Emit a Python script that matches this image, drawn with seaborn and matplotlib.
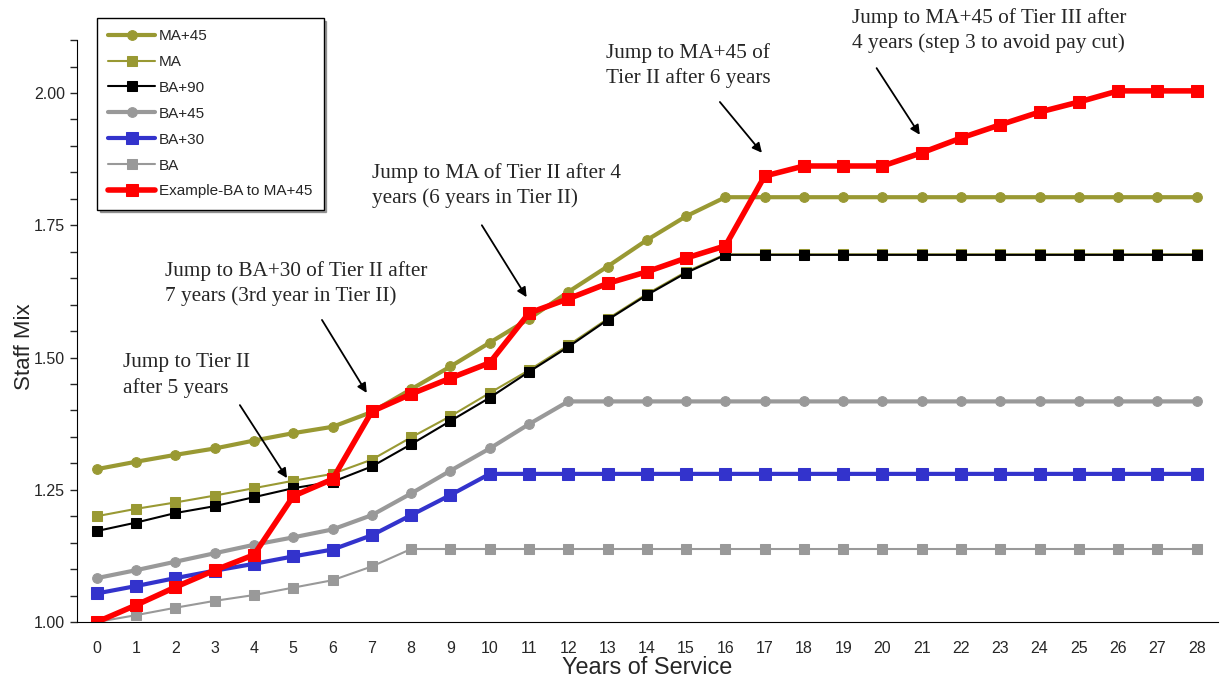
import pandas as pd
import matplotlib
matplotlib.use('Agg')
import matplotlib.pyplot as plt
import seaborn as sns
import numpy as np
from matplotlib.ticker import MultipleLocator, FormatStrFormatter

years = list(range(29))

ma45 = [1.289, 1.303, 1.316, 1.328, 1.343, 1.357, 1.369, 1.397, 1.440, 1.483, 1.528, 1.573, 1.624,
        1.672, 1.722, 1.767, 1.803] + [1.803] * 12
ma = [1.200, 1.214, 1.226, 1.239, 1.253, 1.267, 1.280, 1.307, 1.349, 1.389, 1.433, 1.476, 1.523,
      1.573, 1.620, 1.662, 1.695] + [1.695] * 12
ba90 = [1.172, 1.188, 1.206, 1.219, 1.236, 1.253, 1.265, 1.294, 1.336, 1.380, 1.424, 1.473, 1.520,
        1.571, 1.618, 1.660, 1.694] + [1.694] * 12
ba45 = [1.083, 1.098, 1.114, 1.130, 1.146, 1.160, 1.175, 1.202, 1.243, 1.286, 1.328, 1.374] + [1.417] * 17
ba30 = [1.054, 1.068, 1.083, 1.097, 1.110, 1.124, 1.137, 1.164, 1.202, 1.240] + [1.280] * 19
ba = [1.000, 1.013, 1.027, 1.040, 1.051, 1.065, 1.079, 1.105] + [1.138] * 21
example = [1.000, 1.032, 1.066, 1.098, 1.127, 1.238, 1.270, 1.398, 1.431, 1.461, 1.490, 1.584, 1.611,
           1.640, 1.662, 1.688, 1.711, 1.843, 1.862, 1.862, 1.862, 1.887, 1.915, 1.940, 1.964,
           1.983, 2.004, 2.004, 2.004]

series = [
    ('MA+45', ma45, '#999933', 3, 'o', 7),
    ('MA', ma, '#999933', 1.5, 's', 7),
    ('BA+90', ba90, 'black', 1.5, 's', 7),
    ('BA+45', ba45, '#999999', 3, 'o', 7),
    ('BA+30', ba30, '#3333CC', 3, 's', 8),
    ('BA', ba, '#999999', 1.5, 's', 7),
    ('Example-BA to MA+45', example, '#FF0000', 4, 's', 9),
]

sns.set_style('ticks')
plt.rcParams['font.family'] = ['Liberation Sans', 'DejaVu Sans']

fig = plt.figure(figsize=(12.2, 6.83), dpi=100)
ax = fig.add_axes([0.063, 0.0893, 0.935, 0.852])

for name, vals, col, lw, mk, ms in series:
    sns.lineplot(x=years, y=vals, ax=ax, color=col, linewidth=lw, marker=mk, markersize=ms,
                 markeredgecolor=col, label=name)

ax.set_xlim(-0.51, 28.53)
ax.set_ylim(1.0, 2.1)
ax.set_xticks(years)
ax.yaxis.set_major_locator(MultipleLocator(0.25))
ax.yaxis.set_minor_locator(MultipleLocator(0.05))
ax.yaxis.set_major_formatter(FormatStrFormatter('%.2f'))
ax.tick_params(axis='x', length=0, labelsize=11.5, pad=14)
ax.tick_params(axis='y', which='both', length=5, width=1, labelsize=11.5, direction='out')
for s in ['top', 'right']:
    ax.spines[s].set_visible(False)
ax.spines['left'].set_color('black')
ax.spines['bottom'].set_color('black')
ax.set_xlabel('Years of Service', fontsize=16.8, labelpad=0)
ax.set_ylabel('Staff Mix', fontsize=16)
ax.yaxis.set_label_coords(-0.037, 0.4725)

leg = ax.legend(loc='upper left', bbox_to_anchor=(97 / 1220, 1 - 18 / 683),
                bbox_transform=fig.transFigure, fontsize=11, frameon=True, fancybox=False,
                shadow=True, edgecolor='black', framealpha=1, handlelength=3.1,
                labelspacing=0.78, borderpad=0.72, handletextpad=0.25, borderaxespad=0)
leg.get_frame().set_linewidth(1)

notes = [
    ('Jump to Tier II\nafter 5 years', (0.66, 1.508), (3.64, 1.410), (4.84, 1.272)),
    ('Jump to BA+30 of Tier II after\n7 years (3rd year in Tier II)', (1.73, 1.683), (5.73, 1.571), (6.87, 1.433)),
    ('Jump to MA of Tier II after 4\nyears (6 years in Tier II)', (7.0, 1.868), (9.80, 1.750), (10.94, 1.614)),
    ('Jump to MA+45 of\nTier II after 6 years', (12.95, 2.095), (15.86, 1.983), (16.93, 1.887)),
    ('Jump to MA+45 of Tier III after\n4 years (step 3 to avoid pay cut)', (19.22, 2.161), (19.85, 2.047), (20.95, 1.921)),
]
for txt, pos, tail, head in notes:
    ax.text(pos[0], pos[1], txt, ha='left', va='top', fontsize=15.3, linespacing=1.38,
            family=['Liberation Serif', 'DejaVu Serif'], clip_on=False)
    ax.annotate('', xy=head, xytext=tail,
                arrowprops=dict(arrowstyle='-|>', color='black', lw=1.3, mutation_scale=14,
                                shrinkA=0, shrinkB=0))

fig.savefig('out.png', dpi=100)
